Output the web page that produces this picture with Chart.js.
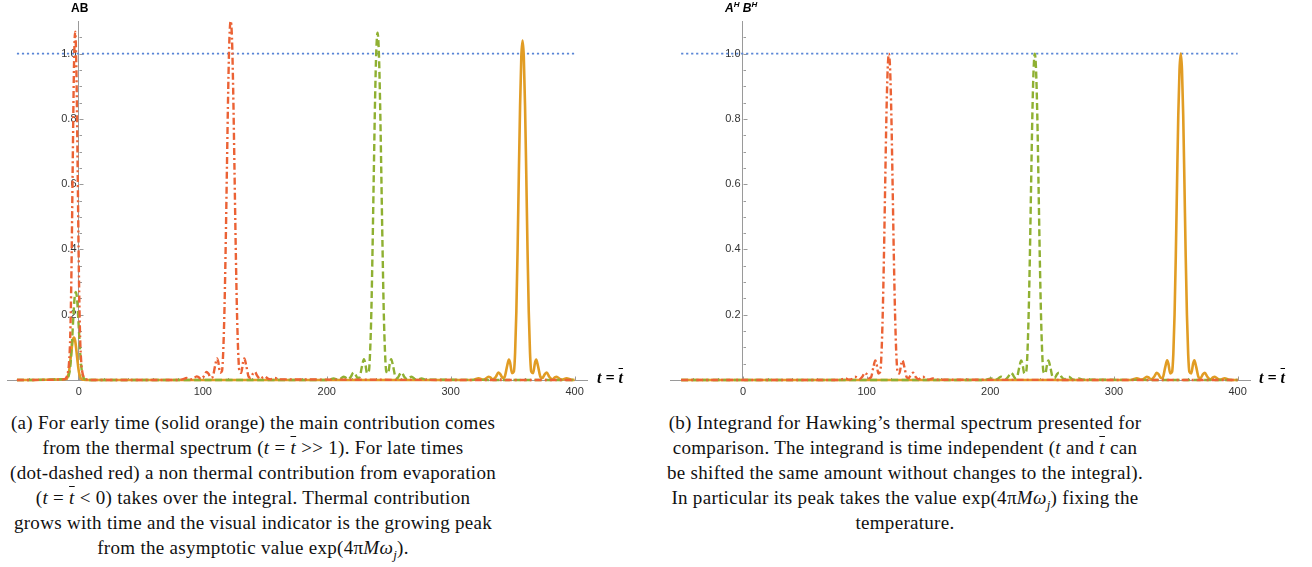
<!DOCTYPE html>
<html lang="en">
<head>
  <meta charset="UTF-8" />
  <title>Integrand peaks - early vs late times</title>
  <script src="https://cdn.jsdelivr.net/npm/chart.js"></script>
  <style>
    body {
      margin: 0;
      background: #fff;
      width: 1312px;
      height: 567px;
      position: relative;
      overflow: hidden;
      font-family: 'Liberation Sans', Arial, sans-serif;
    }
    canvas {
      position: absolute;
      top: 0;
    }
    #chartA { left: 0; }
    #chartB { left: 650px; }
    .lbl {
      position: absolute;
      white-space: nowrap;
      color: #000;
    }
    .ytitle {
      font-weight: bold;
      font-size: 12px;
    }
    .ytitle sup { font-size: 8px; }
    .xtitle {
      font-family: 'Liberation Serif', serif;
      font-weight: bold;
      font-style: italic;
      font-size: 16px;
    }
    .ov { text-decoration: overline; }
    .caption {
      position: absolute;
      top: 410px;
      font-family: 'Liberation Serif', 'Times New Roman', serif;
      font-size: 19px;
      letter-spacing: 0.3px;
      line-height: 25px;
      text-align: center;
      color: #111;
      white-space: nowrap;
    }
    .caption sub { font-size: 13px; line-height: 0; }
  </style>
</head>
<body>

  <canvas id="chartA" width="650" height="400"></canvas>
  <canvas id="chartB" width="662" height="400"></canvas>

  <div class="lbl ytitle" style="left:71px; top:1px;">AB</div>
  <div class="lbl xtitle" style="left:597px; top:369px;">t = <span class="ov">t</span></div>
  <div class="lbl ytitle" style="left:725px; top:0px;"><i>A<sup>H</sup> B<sup>H</sup></i></div>
  <div class="lbl xtitle" style="left:1259px; top:369px;">t = <span class="ov">t</span></div>

  <div class="caption" style="left:0; width:506px;">
    (a) For early time (solid orange) the main contribution comes<br>
    from the thermal spectrum (<i>t</i> = <i class="ov">t</i> &gt;&gt; 1). For late times<br>
    (dot-dashed red) a non thermal contribution from evaporation<br>
    (<i>t</i> = <i class="ov">t</i> &lt; 0) takes over the integral. Thermal contribution<br>
    grows with time and the visual indicator is the growing peak<br>
    from the asymptotic value exp(4&pi;<i>M&omega;<sub>j</sub></i>).
  </div>
  <div class="caption" style="left:650px; width:510px;">
    (b) Integrand for Hawking&rsquo;s thermal spectrum presented for<br>
    comparison. The integrand is time independent (<i>t</i> and <i class="ov">t</i> can<br>
    be shifted the same amount without changes to the integral).<br>
    In particular its peak takes the value exp(4&pi;<i>M&omega;<sub>j</sub></i>) fixing the<br>
    temperature.
  </div>

  <script>
    // tick values
    const xLabelVals = [0, 100, 200, 300, 400];
    const yLabelVals = [0.2, 0.4, 0.6, 0.8, 1.0];
    const xMinorVals = [-40, -20, 0, 20, 40, 60, 80, 100, 120, 140, 160, 180, 200, 220, 240, 260, 280, 300, 320, 340, 360, 380, 400];
    const yMinorVals = [0.05, 0.1, 0.15, 0.2, 0.25, 0.3, 0.35, 0.4, 0.45, 0.5, 0.55, 0.6, 0.65, 0.7, 0.75, 0.8, 0.85, 0.9, 0.95, 1.0, 1.05];

    // asymptotic value exp(4 pi M w_j)
    const refX = [-50, 400];
    const refY = [1, 1];

    // (a) left panel
    const leftOrangeX = [-50, -10, -9, -8, -7, -6, -5, -4, -3, -2, -1, 0, 1, 2, 6, 315,
      319, 322.5, 326, 328, 330.5, 332, 334, 336.5, 338.5, 340, 342, 343.5, 345.5, 347, 348, 349.5, 351, 352, 353, 354, 355, 356, 357,
      358,
      359, 360, 361, 362, 363, 364, 365, 366.5, 368, 369, 370.5, 372.5, 374, 376, 377.5, 379.5, 382, 384, 385.5, 388, 390, 393.5, 397,
      400];
    const leftOrangeY = [0, 0.003, 0.01, 0.025, 0.055, 0.09, 0.12, 0.13, 0.12, 0.09, 0.055, 0.025, 0.01, 0.003, 0, 0,
      0.001, 0.005, 0.001, 0.003, 0.01, 0.008, 0.002, 0.01, 0.023, 0.018, 0.006, 0.009, 0.042, 0.063, 0.052, 0.021, 0.026, 0.085, 0.21, 0.4, 0.63, 0.84, 0.99,
      1.04,
      0.99, 0.84, 0.63, 0.4, 0.21, 0.085, 0.026, 0.021, 0.052, 0.063, 0.042, 0.009, 0.006, 0.018, 0.023, 0.01, 0.002, 0.008, 0.01, 0.003, 0.001, 0.005, 0.001,
      0];

    const leftGreenX = [-50, -9.5, -8.5, -7.5, -6.5, -5.5, -4.5, -3.5, -2.5, -1.5, -0.5, 0.5, 1.5, 2.5, 3.5, 4.5, 8, 198,
      202, 205.5, 209, 211, 213.5, 215, 217, 219.5, 221.5, 223, 225, 226.5, 228.5, 230, 231, 232.5, 234, 235, 236, 237, 238, 239, 240,
      241,
      242, 243, 244, 245, 246, 247, 248, 249.5, 251, 252, 253.5, 255.5, 257, 259, 260.5, 262.5, 265, 267, 268.5, 271, 273, 276.5, 280,
      400];
    const leftGreenY = [0, 0.003, 0.01, 0.025, 0.06, 0.12, 0.19, 0.25, 0.27, 0.25, 0.19, 0.12, 0.06, 0.025, 0.01, 0.003, 0, 0,
      0.001, 0.005, 0.001, 0.003, 0.01, 0.008, 0.002, 0.01, 0.023, 0.018, 0.006, 0.009, 0.043, 0.064, 0.053, 0.021, 0.027, 0.087, 0.21, 0.41, 0.64, 0.86, 1.01,
      1.064,
      1.01, 0.86, 0.64, 0.41, 0.21, 0.087, 0.027, 0.021, 0.053, 0.064, 0.043, 0.009, 0.006, 0.018, 0.023, 0.01, 0.002, 0.008, 0.01, 0.003, 0.001, 0.005, 0.001,
      0];

    const leftRedX = [-50, -12, -10, -9, -8, -7, -6, -5, -4, -3, -2, -1, 0, 1, 2, 3, 4, 6, 10, 80,
      83.5, 87, 90.5, 92.5, 95, 96.5, 98.5, 101, 103, 104.5, 106.5, 108, 110, 111.5, 112.5, 114, 115.5, 116.5, 117.5, 118.5, 119.5, 120.5, 121.5,
      122.5,
      123.5, 124.5, 125.5, 126.5, 127.5, 128.5, 129.5, 131, 132.5, 133.5, 135, 137, 138.5, 140.5, 142, 144, 146.5, 148.5, 150, 152.5, 154.5, 158, 161.5,
      400];
    const leftRedY = [0, 0.002, 0.008, 0.02, 0.05, 0.13, 0.33, 0.65, 0.95, 1.067, 0.95, 0.65, 0.33, 0.13, 0.05, 0.02, 0.008, 0.002, 0, 0,
      0.002, 0.006, 0.002, 0.004, 0.011, 0.009, 0.003, 0.012, 0.025, 0.02, 0.007, 0.01, 0.045, 0.066, 0.055, 0.022, 0.028, 0.09, 0.22, 0.42, 0.66, 0.89, 1.05,
      1.1,
      1.05, 0.89, 0.66, 0.42, 0.22, 0.09, 0.028, 0.022, 0.055, 0.066, 0.045, 0.01, 0.007, 0.02, 0.025, 0.012, 0.003, 0.009, 0.011, 0.004, 0.002, 0.006, 0.002,
      0];

    // (b) right panel, Hawking spectrum
    const rightRedX = [-50, 75,
      79, 82.5, 86, 88, 90.5, 92, 94, 96.5, 98.5, 100, 102, 103.5, 105.5, 107, 108, 109.5, 111, 112, 113, 114, 115, 116, 117,
      118,
      119, 120, 121, 122, 123, 124, 125, 126.5, 128, 129, 130.5, 132.5, 134, 136, 137.5, 139.5, 142, 144, 145.5, 148, 150, 153.5, 157,
      400];
    const rightGreenX = [-50, 193,
      197, 200.5, 204, 206, 208.5, 210, 212, 214.5, 216.5, 218, 220, 221.5, 223.5, 225, 226, 227.5, 229, 230, 231, 232, 233, 234, 235,
      236,
      237, 238, 239, 240, 241, 242, 243, 244.5, 246, 247, 248.5, 250.5, 252, 254, 255.5, 257.5, 260, 262, 263.5, 266, 268, 271.5, 275,
      400];
    const rightOrangeX = [-50, 311,
      315, 318.5, 322, 324, 326.5, 328, 330, 332.5, 334.5, 336, 338, 339.5, 341.5, 343, 344, 345.5, 347, 348, 349, 350, 351, 352, 353,
      354,
      355, 356, 357, 358, 359, 360, 361, 362.5, 364, 365, 366.5, 368.5, 370, 372, 373.5, 375.5, 378, 380, 381.5, 384, 386, 389.5, 393,
      400];
    const rightRedY = [0, 0,
      0.001, 0.005, 0.001, 0.003, 0.01, 0.008, 0.002, 0.01, 0.022, 0.018, 0.006, 0.008, 0.04, 0.06, 0.05, 0.02, 0.025, 0.08, 0.2, 0.38, 0.6, 0.81, 0.95,
      1.0,
      0.95, 0.81, 0.6, 0.38, 0.2, 0.08, 0.025, 0.02, 0.05, 0.06, 0.04, 0.008, 0.006, 0.018, 0.022, 0.01, 0.002, 0.008, 0.01, 0.003, 0.001, 0.005, 0.001,
      0];
    const rightGreenY = [0, 0,
      0.001, 0.005, 0.001, 0.003, 0.01, 0.008, 0.002, 0.01, 0.022, 0.018, 0.006, 0.008, 0.04, 0.06, 0.05, 0.02, 0.025, 0.08, 0.2, 0.38, 0.6, 0.81, 0.95,
      1.0,
      0.95, 0.81, 0.6, 0.38, 0.2, 0.08, 0.025, 0.02, 0.05, 0.06, 0.04, 0.008, 0.006, 0.018, 0.022, 0.01, 0.002, 0.008, 0.01, 0.003, 0.001, 0.005, 0.001,
      0];
    const rightOrangeY = [0, 0,
      0.001, 0.005, 0.001, 0.003, 0.01, 0.008, 0.002, 0.01, 0.022, 0.018, 0.006, 0.008, 0.04, 0.06, 0.05, 0.02, 0.025, 0.08, 0.2, 0.38, 0.6, 0.81, 0.95,
      1.0,
      0.95, 0.81, 0.6, 0.38, 0.2, 0.08, 0.025, 0.02, 0.05, 0.06, 0.04, 0.008, 0.006, 0.018, 0.022, 0.01, 0.002, 0.008, 0.01, 0.003, 0.001, 0.005, 0.001,
      0];

    const ORANGE = '#e19c24';
    const GREEN = '#8fb032';
    const RED = '#eb6235';
    const BLUE = '#5a86d6';
    const AXIS = '#9a9a9a';

    function pts(xs, ys) {
      return xs.map((x, i) => ({ x: x, y: ys[i] }));
    }

    function line(xs, ys, color, width, dash, order) {
      return {
        data: pts(xs, ys),
        borderColor: color,
        borderWidth: width,
        borderDash: dash,
        pointRadius: 0,
        fill: false,
        tension: 0.3,
        cubicInterpolationMode: 'monotone',
        clip: false,
        order: order
      };
    }

    // Mathematica-style axes: ticks point inward, y labels sit left of the axis line
    const innerTicks = {
      id: 'innerTicks',
      beforeDatasetsDraw(chart) {
        const { ctx, scales: { x, y } } = chart;
        const x0 = Math.round(x.getPixelForValue(0)) + 0.5;
        const y0 = Math.round(y.getPixelForValue(0)) + 0.5;
        ctx.save();
        ctx.strokeStyle = AXIS;
        ctx.lineWidth = 1;
        ctx.beginPath();
        xMinorVals.forEach(v => {
          const px = Math.round(x.getPixelForValue(v)) + 0.5;
          const len = v % 100 === 0 ? 4 : 2.5;
          ctx.moveTo(px, y0);
          ctx.lineTo(px, y0 - len);
        });
        yMinorVals.forEach(v => {
          const py = Math.round(y.getPixelForValue(v)) + 0.5;
          const major = Math.abs(v * 5 - Math.round(v * 5)) < 1e-6;
          ctx.moveTo(x0, py);
          ctx.lineTo(x0 + (major ? 4 : 2.5), py);
        });
        ctx.stroke();

        ctx.fillStyle = '#333';
        ctx.font = '11px "Liberation Sans", Arial, sans-serif';
        ctx.textAlign = 'right';
        ctx.textBaseline = 'middle';
        yLabelVals.forEach(v => {
          ctx.fillText(v.toFixed(1), x0 - 3, y.getPixelForValue(v));
        });
        ctx.restore();
      }
    };

    function drawChart(id, xMin, xMax, padding, datasets) {
      const ctx = document.getElementById(id).getContext('2d');
      return new Chart(ctx, {
        type: 'scatter',
        data: { datasets: datasets },
        plugins: [innerTicks],
        options: {
          responsive: false,
          animation: false,
          devicePixelRatio: 1,
          showLine: true,
          layout: { padding: padding },
          plugins: {
            legend: { display: false },
            tooltip: { enabled: false }
          },
          scales: {
            x: {
              type: 'linear',
              min: xMin,
              max: xMax,
              position: { y: 0 },
              afterBuildTicks: axis => { axis.ticks = xLabelVals.map(v => ({ value: v })); },
              grid: { display: false, drawTicks: false },
              border: { display: true, color: AXIS, width: 1 },
              ticks: {
                padding: 5,
                color: '#333',
                font: { family: 'Liberation Sans', size: 11 },
                maxRotation: 0,
                autoSkip: false
              }
            },
            y: {
              type: 'linear',
              min: 0,
              max: 1.1,
              position: { x: 0 },
              afterBuildTicks: axis => { axis.ticks = yLabelVals.map(v => ({ value: v })); },
              grid: { display: false, drawTicks: false },
              border: { display: true, color: AXIS, width: 1 },
              ticks: { display: false }
            }
          }
        }
      });
    }

    drawChart('chartA', -58, 410, { left: 7, right: 63, top: 21, bottom: 20 }, [
      line(leftRedX, leftRedY, RED, 2.4, [7, 3, 2, 3], 0),
      line(leftGreenX, leftGreenY, GREEN, 2.4, [7, 3.5], 1),
      line(leftOrangeX, leftOrangeY, ORANGE, 2.6, [], 2),
      line(refX, refY, BLUE, 1.8, [2.2, 2.8], 3)
    ]);

    drawChart('chartB', -59, 410, { left: 20, right: 62, top: 21, bottom: 20 }, [
      line(rightRedX, rightRedY, RED, 2.4, [7, 3, 2, 3], 0),
      line(rightGreenX, rightGreenY, GREEN, 2.4, [7, 3.5], 1),
      line(rightOrangeX, rightOrangeY, ORANGE, 2.6, [], 2),
      line(refX, refY, BLUE, 1.8, [2.2, 2.8], 3)
    ]);
  </script>

</body>
</html>
